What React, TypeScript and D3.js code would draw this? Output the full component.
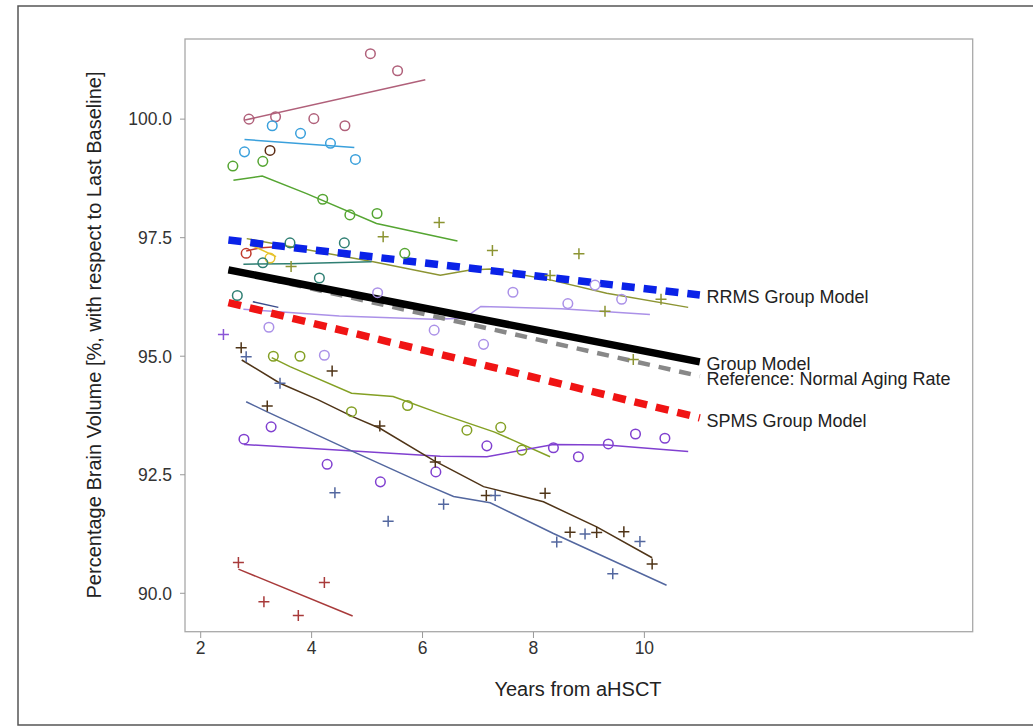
import React from 'react'
import * as d3 from 'd3'

// axis ticks
const xTicks = [2, 4, 6, 8, 10]
const yTicks = [90, 92.5, 95, 97.5, 100]

// group models: value at the first and last year
const modelYears = [2.5, 11.0]
const rrmsModel = [97.45, 96.29]
const groupModel = [96.82, 94.88]
const agingRef = [96.82, 94.58]
const spmsModel = [96.13, 93.7]

// single subjects: observed values and smoothed fit, [year, volume]
const mauvePts = [[2.87, 100.0], [3.35, 100.05], [4.04, 100.01], [4.6, 99.86], [5.06, 101.38], [5.55, 101.02]]
const mauveFit = [[2.8, 99.98], [6.05, 100.83]]
const skyPts = [[2.79, 99.31], [3.29, 99.86], [3.8, 99.7], [4.34, 99.49], [4.79, 99.15]]
const skyFit = [[2.79, 99.57], [4.77, 99.4]]
const brownPts = [[3.25, 99.34]]
const greenPts = [[2.58, 99.01], [3.12, 99.11], [4.2, 98.31], [4.69, 97.98], [5.18, 98.01], [5.68, 97.17]]
const greenFit = [[2.59, 98.71], [3.11, 98.8], [3.91, 98.43], [5.17, 97.8], [6.63, 97.43]]
const olivePts = [[3.63, 96.89], [5.29, 97.52], [6.3, 97.82], [7.26, 97.23], [8.3, 96.7], [8.82, 97.16], [9.29, 95.95], [9.8, 94.93], [10.3, 96.2]]
const oliveFit = [[2.83, 97.48], [5.11, 96.99], [6.32, 96.71], [6.86, 96.82], [7.22, 96.84], [8.3, 96.61], [9.32, 96.33], [10.79, 96.03]]
const redPts = [[2.82, 97.17]]
const redFit = [[2.82, 97.22], [3.1, 97.29], [3.37, 97.31]]
const yellowPts = [[3.25, 97.07]]
const yellowFit = [[2.88, 97.36], [3.36, 97.1]]
const tealPts = [[2.66, 96.28], [3.12, 96.97], [3.61, 97.39], [4.14, 96.65], [4.59, 97.39]]
const tealFit = [[2.77, 96.94], [3.6, 96.95], [5.08, 96.99]]
const navyFit = [[2.94, 96.15], [3.4, 96.03]]
const lavenderPts = [[3.23, 95.61], [4.23, 95.02], [5.19, 96.34], [6.21, 95.55], [7.1, 95.25], [7.63, 96.35], [8.62, 96.11], [9.11, 96.5], [9.59, 96.2]]
const lavenderFit = [[2.77, 95.99], [4.5, 95.85], [6.2, 95.78], [6.75, 95.8], [7.05, 96.05], [8.5, 96.0], [10.1, 95.88]]
const violetPlus = [[2.41, 95.46]]
const olivegreenPts = [[3.31, 95.0], [3.79, 95.0], [4.72, 93.83], [5.73, 93.96], [6.8, 93.44], [7.41, 93.5], [7.79, 93.02]]
const olivegreenFit = [[3.28, 94.97], [3.61, 94.78], [4.72, 94.22], [5.47, 94.15], [6.32, 93.79], [7.3, 93.4], [8.3, 92.88]]
const violetPts = [[2.78, 93.25], [3.27, 93.51], [4.28, 92.72], [5.24, 92.35], [6.24, 92.56], [7.16, 93.11], [8.36, 93.07], [8.81, 92.88], [9.35, 93.15], [9.84, 93.36], [10.37, 93.27]]
const violetFit = [[2.78, 93.14], [6.32, 92.89], [7.16, 92.88], [8.36, 93.14], [9.32, 93.13], [10.79, 92.99]]
const darkPts = [[2.73, 95.18], [3.2, 93.95], [4.37, 94.69], [5.23, 93.53], [6.23, 92.77], [7.15, 92.06], [8.21, 92.11], [8.66, 91.29], [9.14, 91.28], [9.63, 91.3], [10.14, 90.62]]
const darkFit = [[2.74, 94.92], [3.43, 94.43], [4.12, 94.08], [4.75, 93.72], [5.23, 93.48], [6.19, 92.81], [7.1, 92.25], [8.18, 91.93], [9.14, 91.4], [10.14, 90.75]]
const slatePts = [[2.82, 94.99], [3.43, 94.43], [4.42, 92.12], [5.38, 91.52], [6.38, 91.88], [7.31, 92.06], [8.42, 91.08], [8.93, 91.25], [9.43, 90.41], [9.92, 91.09]]
const slateFit = [[2.82, 94.04], [3.19, 93.83], [4.69, 93.02], [6.08, 92.28], [6.56, 92.04], [7.22, 91.91], [8.36, 91.26], [10.4, 90.17]]
const rustPts = [[2.68, 90.65], [3.14, 89.82], [3.76, 89.53], [4.23, 90.23]]
const rustFit = [[2.68, 90.51], [4.74, 89.52]]

const subjects = [
  { pts: mauvePts, fit: mauveFit, color: '#b0607a', mark: 'o' },
  { pts: skyPts, fit: skyFit, color: '#3aa0dc', mark: 'o' },
  { pts: brownPts, fit: [], color: '#5c2c14', mark: 'o' },
  { pts: greenPts, fit: greenFit, color: '#55a532', mark: 'o' },
  { pts: olivePts, fit: oliveFit, color: '#8c9432', mark: '+' },
  { pts: redPts, fit: redFit, color: '#c0392b', mark: 'o' },
  { pts: yellowPts, fit: yellowFit, color: '#e6c22a', mark: 'o' },
  { pts: tealPts, fit: tealFit, color: '#2f7f73', mark: 'o' },
  { pts: [], fit: navyFit, color: '#3b4c8c', mark: 'o' },
  { pts: lavenderPts, fit: lavenderFit, color: '#ab91e8', mark: 'o' },
  { pts: violetPlus, fit: [], color: '#8a55d6', mark: '+' },
  { pts: olivegreenPts, fit: olivegreenFit, color: '#84a024', mark: 'o' },
  { pts: violetPts, fit: violetFit, color: '#8040d0', mark: 'o' },
  { pts: darkPts, fit: darkFit, color: '#4f3417', mark: '+' },
  { pts: slatePts, fit: slateFit, color: '#53679f', mark: '+' },
  { pts: rustPts, fit: rustFit, color: '#a83a3a', mark: '+' },
]

const models = [
  { vals: agingRef, color: '#888888', width: 4.5, dash: '12 9', label: 'Reference: Normal Aging Rate', ly: 385 },
  { vals: groupModel, color: '#000000', width: 7.5, dash: null, label: 'Group Model', ly: 369.5 },
  { vals: rrmsModel, color: '#0a22e8', width: 7.5, dash: '13 9', label: 'RRMS Group Model', ly: 303 },
  { vals: spmsModel, color: '#f01414', width: 7.5, dash: '13 9', label: 'SPMS Group Model', ly: 426.7 },
]

const font = 'Liberation Sans, Arial, sans-serif'

export default function App() {
  const x = d3.scaleLinear().domain([1.717, 15.92]).range([185, 972.7])
  const y = d3.scaleLinear().domain([89.19, 101.69]).range([631.7, 39])
  const line = d3.line<number[]>().x(d => x(d[0])).y(d => y(d[1]))
  const fmt = d3.format('.1f')

  return (
    <svg width={1033} height={727} style={{ position: 'absolute', left: 0, top: 0, background: '#fff' }}
      fontFamily={font}>
      <rect x={18} y={6} width={1030} height={719} fill="none" stroke="#555" strokeWidth={1.5} />
      <rect x={185} y={39} width={787.7} height={592.7} fill="none" stroke="#a8a8a8" strokeWidth={1.3} />

      {yTicks.map(t => (
        <g key={t}>
          <line x1={180} x2={185} y1={y(t)} y2={y(t)} stroke="#999" />
          <text x={172} y={y(t) + 6.3} textAnchor="end" fontSize={17.5} fill="#333">{fmt(t)}</text>
        </g>
      ))}
      {xTicks.map(t => (
        <g key={t}>
          <line x1={x(t)} x2={x(t)} y1={632} y2={638} stroke="#999" />
          <text x={x(t)} y={653.5} textAnchor="middle" fontSize={17.5} fill="#333">{t}</text>
        </g>
      ))}
      <text x={578} y={696} textAnchor="middle" fontSize={20} fill="#222">Years from aHSCT</text>
      <text transform="translate(101,335) rotate(-90)" textAnchor="middle" fontSize={20} fill="#222">
        Percentage Brain Volume [%, with respect to Last Baseline]
      </text>

      {subjects.filter(s => s.fit.length).map((s, i) => (
        <path key={'f' + i} d={line(s.fit) || ''} fill="none" stroke={s.color} strokeWidth={1.5} />
      ))}

      {models.map(m => (
        <path key={m.label} d={line(modelYears.map((yr, j) => [yr, m.vals[j]])) || ''} fill="none"
          stroke={m.color} strokeWidth={m.width} strokeDasharray={m.dash || undefined} />
      ))}

      {subjects.map((s, i) => (
        <g key={'p' + i} stroke={s.color} strokeWidth={1.5} fill="none">
          {s.pts.map((p, j) => s.mark === 'o'
            ? <circle key={j} cx={x(p[0])} cy={y(p[1])} r={4.8} />
            : <path key={j} d={`M${x(p[0]) - 5.5},${y(p[1])}h11M${x(p[0])},${y(p[1]) - 5.5}v11`} />)}
        </g>
      ))}

      {models.map(m => (
        <text key={'l' + m.label} x={706.5} y={m.ly} fontSize={18} fill="#222">{m.label}</text>
      ))}
    </svg>
  )
}
